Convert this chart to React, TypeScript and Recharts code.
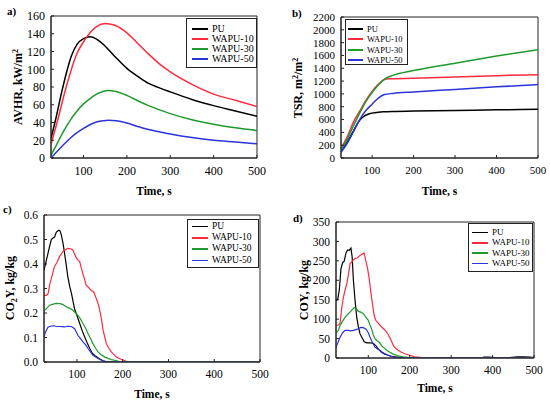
import React from 'react';
import { LineChart, Line, XAxis, YAxis, ReferenceArea, Legend } from 'recharts';

const FONT = '"Liberation Serif", "Times New Roman", Times, serif';

const seriesNames = ['PU', 'WAPU-10', 'WAPU-30', 'WAPU-50'];
const seriesColors = ['#000000', '#ff2b3d', '#1f9a2e', '#2b34d8'];
const timeTicks = [100, 200, 300, 400, 500];

// a) AVHR
const avhrTicks = [0, 20, 40, 60, 80, 100, 120, 140, 160];
const avhrPUTime = [25, 35, 50, 60, 72, 85, 100, 115, 130, 150, 175, 200, 225, 250, 275, 300, 350, 400, 450, 500];
const avhrPU = [22, 42, 75, 95, 115, 128, 134.5, 136.5, 134, 126, 113, 101, 92, 84, 79, 74.5, 66, 59, 53, 47];
const avhr10Time = [25, 40, 60, 85, 104, 130, 150, 160, 175, 200, 225, 250, 275, 300, 350, 400, 450, 500];
const avhr10 = [15, 42, 80, 118, 134, 148, 151.5, 151, 149, 141, 129, 117, 106, 97, 83, 72, 65, 58];
const avhr30Time = [25, 40, 55, 70, 85, 100, 115, 130, 145, 155, 175, 200, 225, 250, 300, 350, 400, 450, 500];
const avhr30 = [3, 17, 31, 43, 53, 61, 67, 72, 75, 76, 75, 70.5, 64.5, 59, 50, 43, 38, 34, 31];
const avhr50Time = [25, 40, 55, 70, 85, 100, 115, 130, 145, 158, 175, 200, 225, 250, 300, 350, 400, 450, 500];
const avhr50 = [0, 8, 15.5, 22.5, 28.5, 33.5, 37.5, 40.5, 42, 42.5, 42, 39.5, 35.5, 32, 27, 23, 20, 18, 16];

// b) TSR
const tsrTicks = [0, 200, 400, 600, 800, 1000, 1200, 1400, 1600, 1800, 2000, 2200];
const tsrPUTime = [25, 40, 55, 70, 80, 90, 100, 115, 130, 150, 200, 300, 400, 500];
const tsrPU = [100, 250, 420, 590, 650, 683, 700, 715, 722, 727, 732, 742, 752, 760];
const tsr10Time = [25, 40, 55, 70, 85, 100, 115, 130, 140, 200, 300, 400, 500];
const tsr10 = [150, 330, 560, 730, 900, 1040, 1150, 1225, 1235, 1245, 1265, 1285, 1300];
const tsr30Time = [25, 40, 55, 70, 85, 100, 115, 130, 150, 200, 300, 400, 500];
const tsr30 = [120, 290, 500, 700, 880, 1020, 1140, 1230, 1290, 1365, 1480, 1590, 1690];
const tsr50Time = [25, 40, 55, 70, 85, 100, 115, 130, 150, 200, 300, 400, 500];
const tsr50 = [90, 230, 410, 600, 740, 840, 935, 990, 1008, 1030, 1070, 1110, 1145];

// c) CO2Y
const co2Ticks = [0, 0.1, 0.2, 0.3, 0.4, 0.5, 0.6];
const co2PUTime = [28, 30, 35, 40, 44, 47, 51, 55, 60, 63, 66, 70, 73, 77, 80, 84, 88, 95, 100, 106, 112, 117, 123, 128, 134, 139, 145, 150, 158, 165, 500];
const co2PU = [0.375, 0.39, 0.43, 0.47, 0.5, 0.505, 0.51, 0.53, 0.538, 0.535, 0.518, 0.48, 0.443, 0.39, 0.348, 0.31, 0.28, 0.215, 0.19, 0.157, 0.125, 0.102, 0.075, 0.055, 0.035, 0.027, 0.018, 0.012, 0.004, 0, 0];
const co210Time = [28, 33, 37, 41, 44, 48, 51, 56, 62, 69, 75, 80, 86, 91, 95, 99, 103, 106, 110, 113, 117, 120, 125, 131, 137, 142, 146, 150, 154, 157, 161, 164, 170, 175, 181, 186, 197, 208, 220, 500];
const co210 = [0.272, 0.272, 0.28, 0.32, 0.34, 0.37, 0.39, 0.405, 0.43, 0.45, 0.458, 0.464, 0.462, 0.457, 0.44, 0.423, 0.415, 0.41, 0.38, 0.36, 0.335, 0.314, 0.305, 0.293, 0.285, 0.26, 0.24, 0.21, 0.17, 0.13, 0.1, 0.075, 0.055, 0.041, 0.03, 0.02, 0.01, 0.003, 0, 0];
const co230Time = [28, 32, 40, 48, 55, 62, 69, 75, 80, 86, 91, 97, 102, 108, 113, 119, 124, 130, 135, 141, 146, 153, 161, 168, 175, 185, 192, 205, 500];
const co230 = [0.21, 0.215, 0.232, 0.236, 0.239, 0.238, 0.235, 0.228, 0.222, 0.218, 0.211, 0.2, 0.19, 0.175, 0.157, 0.138, 0.116, 0.095, 0.075, 0.055, 0.041, 0.03, 0.02, 0.015, 0.01, 0.006, 0.003, 0, 0];
const co250Time = [28, 32, 37, 44, 50, 56, 62, 68, 73, 80, 88, 95, 102, 108, 113, 119, 124, 130, 135, 141, 146, 152, 157, 170, 500];
const co250 = [0.105, 0.125, 0.143, 0.147, 0.148, 0.145, 0.145, 0.144, 0.143, 0.146, 0.145, 0.136, 0.109, 0.095, 0.082, 0.07, 0.055, 0.04, 0.027, 0.02, 0.014, 0.008, 0.005, 0, 0];

// d) COY
const coTicks = [0, 50, 100, 150, 200, 250, 300, 350];
const coPUTime = [22, 26, 30, 34, 38, 42, 46, 50, 54, 58, 61, 64, 68, 72, 76, 80, 84, 90, 96, 104, 112, 118, 125, 132, 140, 148, 156, 164, 180, 200, 370, 380, 392, 405, 440, 460, 475, 490, 500];
const coPU = [148, 150, 175, 230, 245, 250, 270, 278, 277, 283, 260, 200, 148, 105, 80, 62, 54, 42, 39, 39, 38, 32, 22, 15, 10, 7, 4, 3, 1, 0, 0, 2, 2, 1, 1, 3, 3, 2, 1];
const co10Time = [22, 28, 32, 36, 40, 44, 48, 52, 56, 62, 68, 74, 80, 86, 90, 94, 98, 102, 106, 110, 114, 118, 124, 130, 136, 142, 148, 154, 160, 166, 172, 180, 188, 200, 212, 230, 250, 500];
const co10 = [84, 85, 90, 130, 157, 175, 191, 215, 243, 250, 256, 258, 264, 268, 270, 250, 232, 205, 170, 140, 110, 97, 90, 82, 76, 70, 60, 48, 33, 25, 20, 15, 11, 7, 3, 1, 0, 0];
const co30Time = [22, 28, 32, 38, 44, 50, 56, 62, 66, 72, 76, 82, 88, 94, 100, 104, 108, 112, 116, 120, 126, 132, 136, 144, 152, 160, 168, 184, 200, 220, 500];
const co30 = [63, 72, 84, 95, 105, 112, 118, 125, 130, 126, 120, 118, 114, 105, 97, 85, 75, 60, 50, 45, 41, 32, 28, 20, 15, 10, 7, 3, 1, 0, 0];
const co50Time = [22, 26, 32, 38, 44, 52, 58, 64, 70, 76, 82, 88, 94, 100, 104, 110, 116, 122, 128, 134, 140, 148, 156, 164, 175, 500];
const co50 = [28, 38, 54, 65, 71, 71, 70, 71, 73, 75, 79, 78, 75, 65, 54, 40, 28, 23, 20, 15, 11, 7, 4, 2, 0, 0];

type Pt = { t: number; v: number };
const zip = (ts: number[], vs: number[]): Pt[] => ts.map((t, i) => ({ t, v: vs[i] }));

type PanelProps = {
  left: number;
  top: number;
  width: number;
  height: number;
  plot: { left: number; right: number; top: number; bottom: number };
  xMin: number;
  yMax: number;
  yTicks: number[];
  yFmt?: (v: number) => string;
  tickFont: number;
  series: Pt[][];
  strokeW: number;
  lineType: 'monotone' | 'linear';
  legend: { left: number; top: number; width: number; height: number; padTop: number; row: number; font: number; lineLeft: number; lineW: number; gap: number };
};

function makeTick(fontSize: number, side: 'x' | 'y', fmt?: (v: number) => string) {
  return (props: any) => {
    const { x, y, payload } = props;
    const val = payload && payload.value;
    const label = fmt ? fmt(val) : String(val);
    return (
      <text
        x={x}
        y={y}
        dy={side === 'x' ? '0.71em' : '0.355em'}
        textAnchor={side === 'x' ? 'middle' : 'end'}
        fontSize={fontSize}
        fontFamily={FONT}
        fill="#000"
      >
        {label}
      </text>
    );
  };
}

function Panel(p: PanelProps) {
  const margin = { top: p.plot.top, right: p.width - p.plot.right, left: 0, bottom: 0 };
  const lg = p.legend;
  const renderLegend = () => (
    <div
      style={{
        boxSizing: 'border-box',
        width: lg.width,
        height: lg.height,
        border: '1px solid #222',
        background: '#fff',
        paddingTop: lg.padTop,
        fontFamily: FONT,
        fontSize: lg.font,
        color: '#000',
      }}
    >
      {seriesNames.map((n, i) => (
        <div key={n} style={{ height: lg.row, display: 'flex', alignItems: 'center', lineHeight: 1, fontFamily: FONT }}>
          <div style={{ marginLeft: lg.lineLeft, width: lg.lineW, height: 1.6, background: seriesColors[i] }} />
          <span style={{ marginLeft: lg.gap, whiteSpace: 'nowrap', fontFamily: FONT }}>{n}</span>
        </div>
      ))}
    </div>
  );
  return (
    <div style={{ position: 'absolute', left: p.left, top: p.top, width: p.width, height: p.height, fontFamily: FONT }}>
      <LineChart width={p.width} height={p.height} margin={margin} style={{ fontFamily: FONT }}>
        <XAxis
          type="number"
          dataKey="t"
          domain={[p.xMin, 500]}
          ticks={timeTicks}
          allowDataOverflow
          height={p.height - p.plot.bottom}
          tickSize={-3}
          tickMargin={11}
          tick={makeTick(p.tickFont, 'x')}
          stroke="#222"
          interval={0}
        />
        <YAxis
          type="number"
          dataKey="v"
          domain={[0, p.yMax]}
          ticks={p.yTicks}
          allowDataOverflow
          width={p.plot.left}
          tickSize={-3}
          tickMargin={9}
          tick={makeTick(p.tickFont, 'y', p.yFmt)}
          stroke="#222"
          interval={0}
        />
        <ReferenceArea x1={p.xMin} x2={500} y1={0} y2={p.yMax} fill="none" stroke="#222" strokeWidth={1} ifOverflow="visible" />
        {p.series.map((d, i) => (
          <Line
            key={seriesNames[i]}
            name={seriesNames[i]}
            data={d}
            dataKey="v"
            type={p.lineType}
            stroke={seriesColors[i]}
            strokeWidth={p.strokeW}
            dot={false}
            activeDot={false}
            isAnimationActive={false}
          />
        ))}
        <Legend
          layout="vertical"
          align="center"
          verticalAlign="middle"
          content={renderLegend}
          wrapperStyle={{ left: lg.left, top: lg.top, width: lg.width, height: lg.height }}
        />
      </LineChart>
    </div>
  );
}

const titleStyle = { fontFamily: FONT, fontWeight: 'bold' as const, fill: '#000' };

export default function App() {
  return (
    <div style={{ position: 'absolute', left: 0, top: 0, width: 550, height: 403, background: '#fff', overflow: 'hidden', fontFamily: FONT }}>
      <Panel
        left={0}
        top={0}
        width={275}
        height={200}
        plot={{ left: 51, right: 257, top: 16, bottom: 158 }}
        xMin={25}
        yMax={160}
        yTicks={avhrTicks}
        tickFont={12}
        series={[zip(avhrPUTime, avhrPU), zip(avhr10Time, avhr10), zip(avhr30Time, avhr30), zip(avhr50Time, avhr50)]}
        strokeW={1.5}
        lineType="monotone"
        legend={{ left: 186, top: 18, width: 71, height: 50, padTop: 5, row: 10, font: 10, lineLeft: 5, lineW: 16, gap: 4 }}
      />
      <Panel
        left={275}
        top={0}
        width={275}
        height={200}
        plot={{ left: 66, right: 263, top: 17, bottom: 158 }}
        xMin={25}
        yMax={2200}
        yTicks={tsrTicks}
        tickFont={11}
        series={[zip(tsrPUTime, tsrPU), zip(tsr10Time, tsr10), zip(tsr30Time, tsr30), zip(tsr50Time, tsr50)]}
        strokeW={1.5}
        lineType="monotone"
        legend={{ left: 70, top: 19, width: 63, height: 46, padTop: 3.5, row: 10.5, font: 8.5, lineLeft: 2, lineW: 15, gap: 4 }}
      />
      <Panel
        left={0}
        top={200}
        width={275}
        height={203}
        plot={{ left: 44, right: 260, top: 15, bottom: 162 }}
        xMin={28}
        yMax={0.6}
        yTicks={co2Ticks}
        yFmt={(v: number) => v.toFixed(1)}
        tickFont={11.5}
        series={[zip(co2PUTime, co2PU), zip(co210Time, co210), zip(co230Time, co230), zip(co250Time, co250)]}
        strokeW={1.2}
        lineType="linear"
        legend={{ left: 187, top: 19, width: 72, height: 49, padTop: 1, row: 11.3, font: 9.5, lineLeft: 4, lineW: 16, gap: 4 }}
      />
      <Panel
        left={275}
        top={200}
        width={275}
        height={203}
        plot={{ left: 61, right: 259, top: 22, bottom: 158 }}
        xMin={22}
        yMax={350}
        yTicks={coTicks}
        tickFont={11.5}
        series={[zip(coPUTime, coPU), zip(co10Time, co10), zip(co30Time, co30), zip(co50Time, co50)]}
        strokeW={1.2}
        lineType="linear"
        legend={{ left: 193, top: 23, width: 65, height: 49, padTop: 3.5, row: 10.3, font: 9, lineLeft: 3, lineW: 16, gap: 4 }}
      />
      <svg width={550} height={403} style={{ position: 'absolute', left: 0, top: 0, pointerEvents: 'none' }}>
        <text x={7} y={15} fontSize={11} {...titleStyle}>a)</text>
        <text x={292} y={17} fontSize={11} {...titleStyle}>b)</text>
        <text x={3} y={213} fontSize={11} {...titleStyle}>c)</text>
        <text x={293} y={222} fontSize={11} {...titleStyle}>d)</text>

        <text x={154} y={195} fontSize={11.5} textAnchor="middle" {...titleStyle}>Time, s</text>
        <text x={439.5} y={195} fontSize={11.5} textAnchor="middle" {...titleStyle}>Time, s</text>
        <text x={152} y={398} fontSize={11.5} textAnchor="middle" {...titleStyle}>Time, s</text>
        <text x={435} y={392} fontSize={11.5} textAnchor="middle" {...titleStyle}>Time, s</text>

        <text x={21.5} y={87} fontSize={12} textAnchor="middle" transform="rotate(-90, 21.5, 87)" {...titleStyle}>
          AVHR, kW/m<tspan dy={-4} fontSize={8}>2</tspan>
        </text>
        <text x={301.5} y={88} fontSize={12} textAnchor="middle" transform="rotate(-90, 301.5, 88)" {...titleStyle}>
          TSR, m<tspan dy={-4} fontSize={8}>2</tspan>
          <tspan dy={4}>/m</tspan>
          <tspan dy={-4} fontSize={8}>2</tspan>
        </text>
        <text x={13.5} y={288} fontSize={12} textAnchor="middle" transform="rotate(-90, 13.5, 288)" {...titleStyle}>
          CO<tspan dy={3} fontSize={8}>2</tspan>
          <tspan dy={-3}>Y, kg/kg</tspan>
        </text>
        <text x={308} y={290} fontSize={12} textAnchor="middle" transform="rotate(-90, 308, 290)" {...titleStyle}>
          COY, kg/kg
        </text>
      </svg>
    </div>
  );
}
